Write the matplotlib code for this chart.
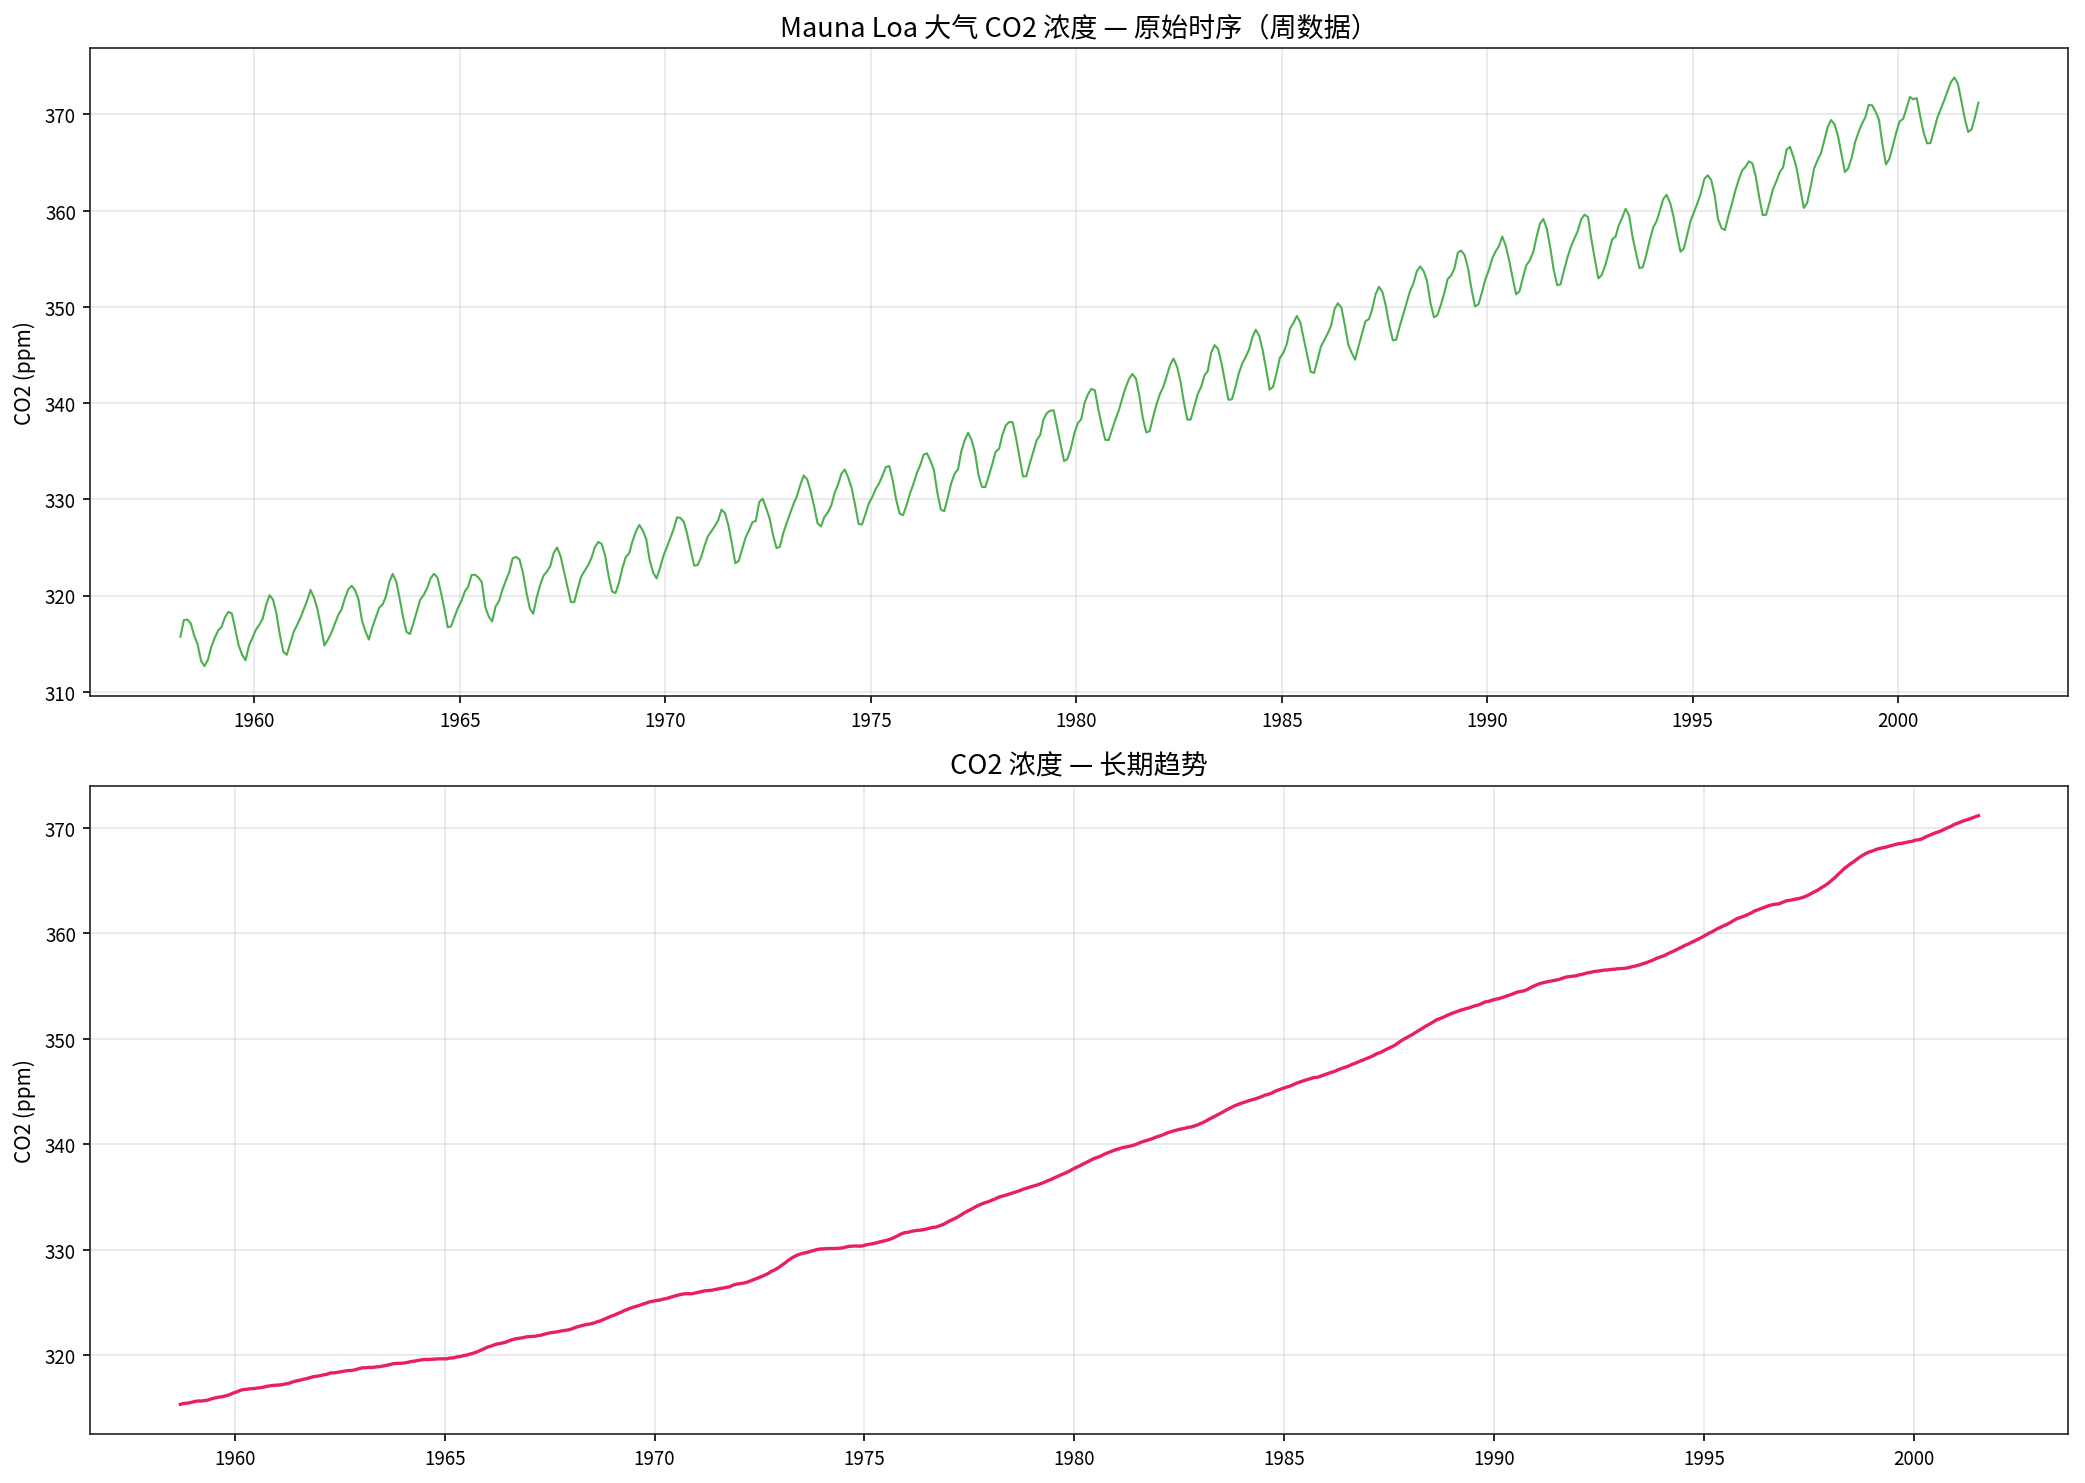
#!/usr/bin/env python
# -*- coding: utf-8 -*-

"""
Mauna Loa CO2 浓度：原始时序 + 长期趋势
"""

import numpy as np
import pandas as pd
import matplotlib
matplotlib.use("Agg")
import matplotlib.pyplot as plt
import matplotlib.dates as mdates

plt.rcParams["font.family"] = ["Noto Sans CJK SC", "DejaVu Sans"]
plt.rcParams["axes.unicode_minus"] = False

# 月均值 (ppm)，1958-03 ~ 2001-12
co2_1958 = [315.71, 317.45, 317.50, 317.10, 315.86, 314.93, 313.20, 312.66, 313.33, 314.67]
co2_1959 = [315.62, 316.38, 316.71, 317.72, 318.29, 318.15, 316.54, 314.80, 313.84, 313.26, 314.80, 315.58]
co2_1960 = [316.43, 316.97, 317.58, 319.02, 320.03, 319.59, 318.18, 315.91, 314.16, 313.83, 315.00, 316.19]
co2_1961 = [316.93, 317.70, 318.54, 319.48, 320.58, 319.77, 318.57, 316.79, 314.80, 315.38, 316.10, 317.01]
co2_1962 = [317.94, 318.56, 319.68, 320.63, 321.01, 320.55, 319.58, 317.40, 316.26, 315.42, 316.69, 317.69]
co2_1963 = [318.74, 319.08, 319.86, 321.39, 322.25, 321.47, 319.74, 317.77, 316.21, 315.99, 317.12, 318.31]
co2_1964 = [319.57, 320.07, 320.73, 321.77, 322.25, 321.89, 320.44, 318.70, 316.70, 316.79, 317.79, 318.71]
co2_1965 = [319.44, 320.44, 320.89, 322.13, 322.16, 321.87, 321.39, 318.81, 317.81, 317.30, 318.87, 319.42]
co2_1966 = [320.62, 321.59, 322.39, 323.87, 324.01, 323.75, 322.39, 320.37, 318.64, 318.10, 319.79, 321.08]
co2_1967 = [322.07, 322.50, 323.04, 324.42, 325.00, 324.09, 322.55, 320.92, 319.31, 319.31, 320.72, 321.96]
co2_1968 = [322.57, 323.15, 323.89, 325.02, 325.57, 325.36, 324.14, 322.03, 320.41, 320.25, 321.31, 322.84]
co2_1969 = [324.00, 324.42, 325.64, 326.66, 327.34, 326.76, 325.88, 323.67, 322.38, 321.78, 322.85, 324.11]
co2_1970 = [325.03, 325.99, 326.87, 328.13, 328.07, 327.66, 326.35, 324.69, 323.10, 323.16, 323.98, 325.13]
co2_1971 = [326.17, 326.68, 327.18, 327.78, 328.92, 328.57, 327.34, 325.46, 323.36, 323.57, 324.80, 326.01]
co2_1972 = [326.77, 327.63, 327.75, 329.72, 330.07, 329.09, 328.05, 326.32, 324.93, 325.06, 326.50, 327.55]
co2_1973 = [328.54, 329.56, 330.30, 331.50, 332.48, 332.07, 330.87, 329.31, 327.51, 327.18, 328.16, 328.64]
co2_1974 = [329.35, 330.71, 331.48, 332.65, 333.09, 332.25, 331.18, 329.40, 327.44, 327.37, 328.46, 329.58]
co2_1975 = [330.25, 331.09, 331.63, 332.46, 333.36, 333.45, 331.98, 329.95, 328.50, 328.34, 329.37, 330.58]
co2_1976 = [331.59, 332.75, 333.52, 334.64, 334.77, 334.00, 333.06, 330.68, 328.95, 328.75, 330.15, 331.62]
co2_1977 = [332.66, 333.13, 334.95, 336.13, 336.93, 336.17, 334.88, 332.56, 331.29, 331.27, 332.41, 333.60]
co2_1978 = [334.95, 335.25, 336.66, 337.69, 338.03, 338.01, 336.41, 334.41, 332.37, 332.41, 333.75, 334.90]
co2_1979 = [336.14, 336.69, 338.27, 338.96, 339.21, 339.26, 337.54, 335.75, 333.98, 334.19, 335.31, 336.81]
co2_1980 = [337.90, 338.34, 340.01, 340.93, 341.48, 341.33, 339.40, 337.70, 336.19, 336.15, 337.27, 338.32]
co2_1981 = [339.29, 340.55, 341.61, 342.53, 343.03, 342.54, 340.78, 338.44, 336.95, 337.08, 338.58, 339.88]
co2_1982 = [340.96, 341.73, 342.81, 343.97, 344.63, 343.79, 342.32, 340.09, 338.28, 338.29, 339.60, 340.90]
co2_1983 = [341.68, 342.90, 343.33, 345.25, 346.03, 345.63, 344.19, 342.27, 340.35, 340.38, 341.59, 343.05]
co2_1984 = [344.10, 344.79, 345.52, 346.84, 347.63, 346.98, 345.53, 343.55, 341.40, 341.67, 343.10, 344.70]
co2_1985 = [345.21, 346.16, 347.74, 348.34, 349.06, 348.38, 346.72, 345.02, 343.27, 343.13, 344.49, 345.88]
co2_1986 = [346.56, 347.28, 348.01, 349.77, 350.38, 349.93, 348.16, 346.08, 345.22, 344.51, 345.93, 347.21]
co2_1987 = [348.52, 348.73, 349.73, 351.31, 352.09, 351.53, 350.11, 348.08, 346.52, 346.59, 347.96, 349.16]
co2_1988 = [350.39, 351.64, 352.40, 353.69, 354.21, 353.72, 352.69, 350.40, 348.92, 349.13, 350.20, 351.41]
co2_1989 = [352.91, 353.27, 353.96, 355.64, 355.86, 355.37, 353.99, 351.81, 350.05, 350.25, 351.49, 352.85]
co2_1990 = [353.80, 355.04, 355.73, 356.32, 357.32, 356.34, 354.84, 353.01, 351.31, 351.62, 353.07, 354.33]
co2_1991 = [354.84, 355.73, 357.23, 358.66, 359.13, 358.13, 356.19, 353.85, 352.25, 352.35, 353.81, 355.12]
co2_1992 = [356.25, 357.11, 357.86, 359.09, 359.59, 359.33, 357.01, 354.94, 352.96, 353.32, 354.32, 355.57]
co2_1993 = [357.00, 357.31, 358.47, 359.27, 360.19, 359.52, 357.33, 355.64, 354.03, 354.12, 355.41, 356.91]
co2_1994 = [358.24, 358.92, 359.99, 361.23, 361.65, 360.81, 359.38, 357.46, 355.73, 356.07, 357.53, 358.98]
co2_1995 = [359.92, 360.86, 361.83, 363.30, 363.69, 363.19, 361.64, 359.12, 358.17, 357.99, 359.45, 360.68]
co2_1996 = [362.07, 363.24, 364.17, 364.57, 365.13, 364.92, 363.55, 361.38, 359.54, 359.58, 360.89, 362.24]
co2_1997 = [363.09, 364.03, 364.51, 366.35, 366.64, 365.59, 364.31, 362.25, 360.29, 360.82, 362.49, 364.38]
co2_1998 = [365.26, 365.98, 367.24, 368.66, 369.42, 368.99, 367.82, 365.95, 364.02, 364.40, 365.52, 367.13]
co2_1999 = [368.18, 369.07, 369.68, 370.99, 370.96, 370.30, 369.45, 366.90, 364.81, 365.37, 366.72, 368.10]
co2_2000 = [369.29, 369.54, 370.60, 371.82, 371.58, 371.70, 369.86, 368.13, 367.00, 367.03, 368.37, 369.67]
co2_2001 = [370.59, 371.51, 372.43, 373.37, 373.85, 373.22, 371.50, 369.61, 368.18, 368.45, 369.76, 371.24]

co2_values = (co2_1958 + co2_1959 + co2_1960 + co2_1961 + co2_1962 + co2_1963
              + co2_1964 + co2_1965 + co2_1966 + co2_1967 + co2_1968 + co2_1969
              + co2_1970 + co2_1971 + co2_1972 + co2_1973 + co2_1974 + co2_1975
              + co2_1976 + co2_1977 + co2_1978 + co2_1979 + co2_1980 + co2_1981
              + co2_1982 + co2_1983 + co2_1984 + co2_1985 + co2_1986 + co2_1987
              + co2_1988 + co2_1989 + co2_1990 + co2_1991 + co2_1992 + co2_1993
              + co2_1994 + co2_1995 + co2_1996 + co2_1997 + co2_1998 + co2_1999
              + co2_2000 + co2_2001)

dates = pd.date_range("1958-03-01", periods=len(co2_values), freq="MS") + pd.Timedelta(days=14)
co2 = pd.Series(co2_values, index=dates)

# 长期趋势：12 个月居中滑动平均
trend = co2.rolling(window=12, center=True).mean().dropna()

fig, (ax1, ax2) = plt.subplots(2, 1, figsize=(13.9, 9.893), dpi=150)

ax1.plot(co2.index, co2.values, color="#4CAF50", linewidth=1.0)
ax1.set_title("Mauna Loa 大气 CO2 浓度 — 原始时序（周数据）", fontsize=13)
ax1.set_ylabel("CO2 (ppm)", fontsize=10)
ax1.grid(True, alpha=0.3)

ax2.plot(trend.index, trend.values, color="#E91E63", linewidth=1.6)
ax2.set_title("CO2 浓度 — 长期趋势", fontsize=13)
ax2.set_ylabel("CO2 (ppm)", fontsize=10)
ax2.grid(True, alpha=0.3)

for ax in (ax1, ax2):
    ax.xaxis.set_major_locator(mdates.YearLocator(5))
    ax.xaxis.set_major_formatter(mdates.DateFormatter("%Y"))
    ax.tick_params(labelsize=9)
    for sp in ax.spines.values():
        sp.set_color("#222222")

plt.subplots_adjust(left=0.0434, right=0.992, top=0.967, bottom=0.0332, hspace=0.14)
plt.savefig("out.png", dpi=150)
